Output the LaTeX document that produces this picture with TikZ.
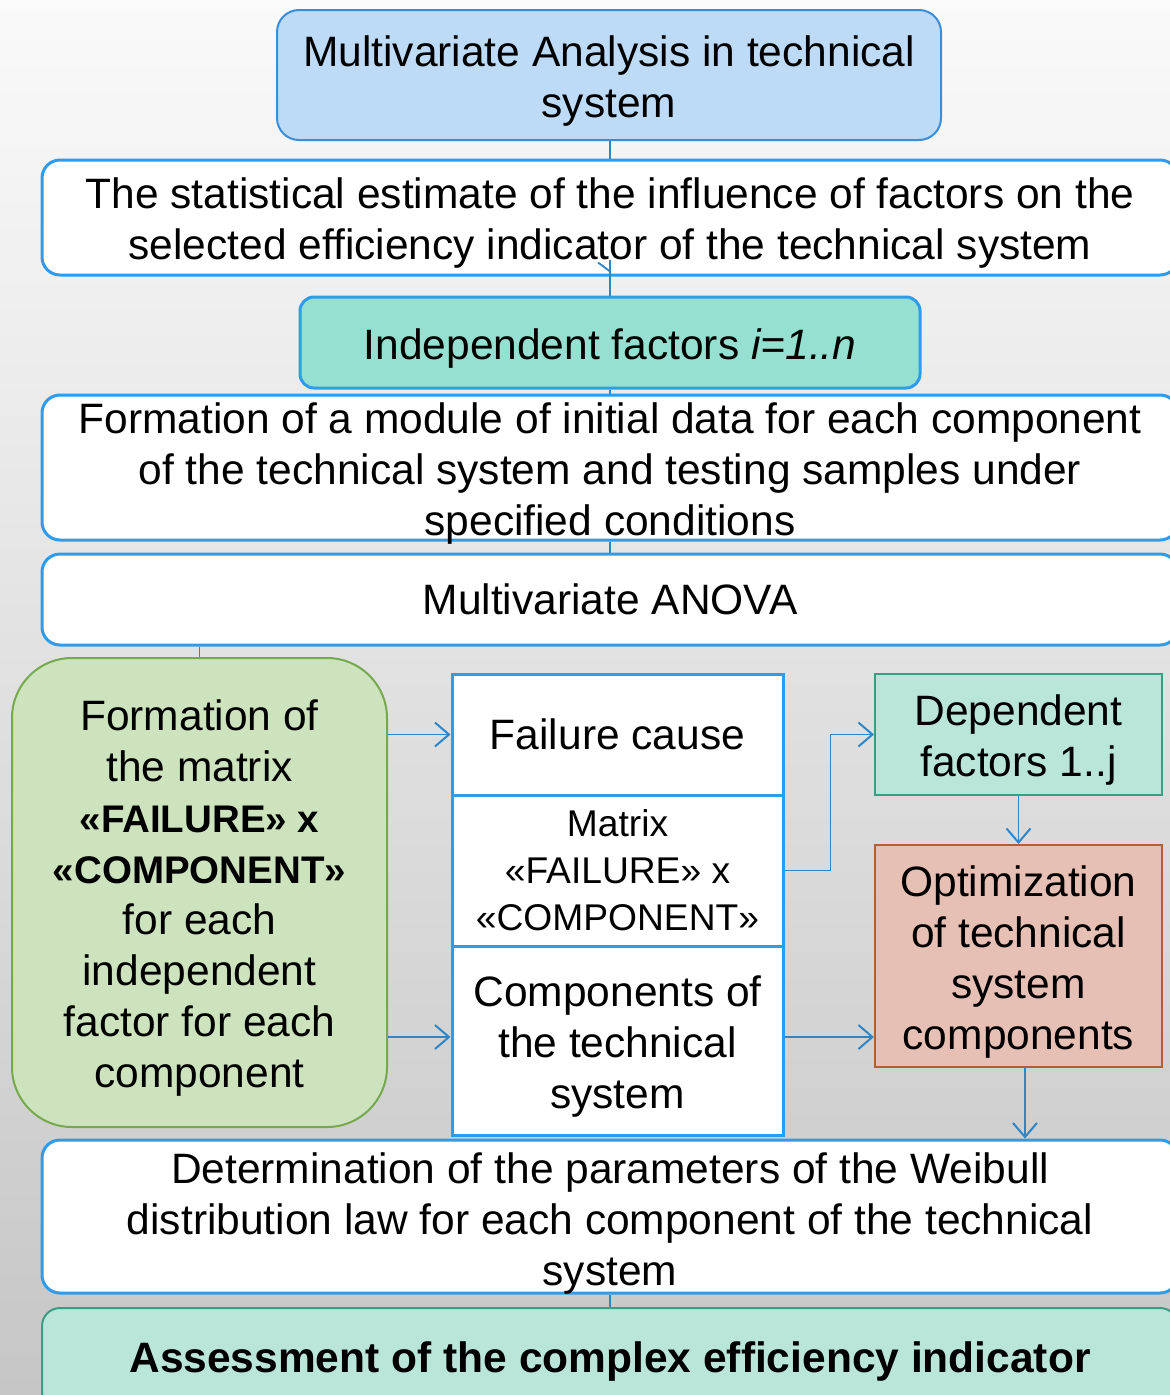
\documentclass[tikz,border=0pt]{standalone}
\usepackage{fontspec}
\setmainfont{Liberation Sans}
\usetikzlibrary{arrows.meta}
\definecolor{topfill}{HTML}{BDDBF7}
\definecolor{topbord}{HTML}{3C8DD8}
\definecolor{bbord}{HTML}{2E9CEB}
\definecolor{indepfill}{HTML}{95E0D0}
\definecolor{greenfill}{HTML}{CDE3BE}
\definecolor{greenbord}{HTML}{76A84E}
\definecolor{depfill}{HTML}{BAE6DA}
\definecolor{depbord}{HTML}{3B9E82}
\definecolor{optfill}{HTML}{E7C0B5}
\definecolor{optbord}{HTML}{B35F34}
\definecolor{lcol}{HTML}{2E86C8}
\definecolor{bgtop}{HTML}{FAFAFA}
\definecolor{bgmid}{HTML}{E6E6E6}
\definecolor{bgbot}{HTML}{C6C6C6}
\newcommand\fs{\rule{0pt}{42pt}}
\begin{document}
\begin{tikzpicture}[x=1pt,y=-1pt,
  txt/.style={align=center, inner sep=0pt, font=\fontsize{42.5}{51}\selectfont},
  box/.style={txt, draw=bbord, line width=3pt, fill=white, rounded corners=18pt},
  sbox/.style={txt, draw=bbord, line width=3pt, fill=white},
  conn/.style={draw=lcol, line width=1.8pt},
  arr/.style={conn, -{Straight Barb[length=14pt,width=24pt,line width=2pt]}},
]
\useasboundingbox (0,0) rectangle (1170,1395);
\clip (0,0) rectangle (1170,1395);
\shade[top color=bgtop, middle color=bgmid, bottom color=bgbot] (0,0) rectangle (1170,1395);

% nodes
\node[txt, draw=topbord, line width=2pt, fill=topfill, rounded corners=22pt,
      minimum width=664pt, minimum height=130pt] (top) at (609,75)
  {\fs Multivariate Analysis in technical\\system};
\node[box, minimum width=1136pt, minimum height=115pt] (stat) at (610,217.5)
  {\fs The statistical estimate of the influence of factors on the\\selected efficiency indicator of the technical system};
\node[txt, draw=bbord, line width=3pt, fill=indepfill, rounded corners=14pt,
      minimum width=620pt, minimum height=91pt] (indep) at (610,342.5)
  {\fs Independent factors \textit{i=1..n}};
\node[box, inner ysep=-5pt, minimum width=1136pt, minimum height=145pt] (module) at (610,467.5)
  {\fs Formation of a module of initial data for each component\\of the technical system and testing samples under\\specified conditions};
\node[box, minimum width=1136pt, minimum height=91pt] (anova) at (610,599.5)
  {Multivariate ANOVA};
\node[txt, draw=greenbord, line width=2pt, fill=greenfill, rounded corners=60pt,
      minimum width=375pt, minimum height=469pt] (green) at (199.5,892.5)
  {\fs Formation of\\the matrix\\{\bfseries\fontsize{38.5}{51}\selectfont «FAILURE» x}\\{\bfseries\fontsize{38.5}{51}\selectfont «COMPONENT»}\\for each\\independent\\factor for each\\component};
\node[sbox, minimum width=331pt, minimum height=121pt] (failure) at (617.5,734.5)
  {Failure cause};
\node[sbox, minimum width=331pt, minimum height=151pt, font=\fontsize{37.2}{47}\selectfont] (matrix) at (617.5,870.5)
  {Matrix\\«FAILURE» x\\«COMPONENT»};
\node[sbox, minimum width=331pt, minimum height=189pt] (comps) at (617.5,1040.5)
  {\fs Components of\\the technical\\system};
\node[txt, draw=depbord, line width=2pt, fill=depfill,
      minimum width=287pt, minimum height=121pt] (dep) at (1018.5,734.5)
  {\fs Dependent\\factors 1..j};
\node[txt, draw=optbord, line width=2pt, fill=optfill,
      minimum width=287pt, minimum height=222pt] (opt) at (1018.5,956)
  {\fs Optimization\\of technical\\system\\components};
\node[box, inner ysep=-5pt, minimum width=1136pt, minimum height=153pt] (weibull) at (610,1216.5)
  {\rule{0pt}{44pt}Determination of the parameters of the Weibull\\distribution law for each component of the technical\\system};
\node[txt, draw=depbord, line width=2pt, fill=depfill, rounded corners=18pt,
      minimum width=1136pt, minimum height=102pt] (assess) at (610,1359)
  {\rule{0pt}{35pt}\textbf{Assessment of the complex efficiency indicator}};

% connectors
\draw[conn] ([xshift=1pt]top.south) -- (stat.north);
\draw[conn] ([yshift=17pt]stat.south) -- (indep.north);
\draw[conn] ([yshift=5pt]stat.south) -- ++(-12,-9);
\draw[conn] (indep.south) -- (module.north);
\draw[conn] (module.south) -- (anova.north);
\draw[conn] (anova.south -| green.north) -- (green.north);
\draw[conn] (weibull.south) -- (assess.north);
\draw[arr] (green.east |- failure) -- (failure.west);
\draw[arr] ([yshift=3.5pt]green.east |- comps) -- ([yshift=3.5pt]comps.west);
\draw[arr] (matrix.east) -- ++(46,0) |- (dep.west);
\draw[arr] (dep.south) -- (opt.north);
\draw[arr] ([yshift=3.5pt]comps.east) -- ([yshift=3.5pt]comps.east -| opt.west);
\draw[arr] ([xshift=6.5pt]opt.south) -- ([xshift=6.5pt]opt.south |- weibull.north);
\end{tikzpicture}
\end{document}
